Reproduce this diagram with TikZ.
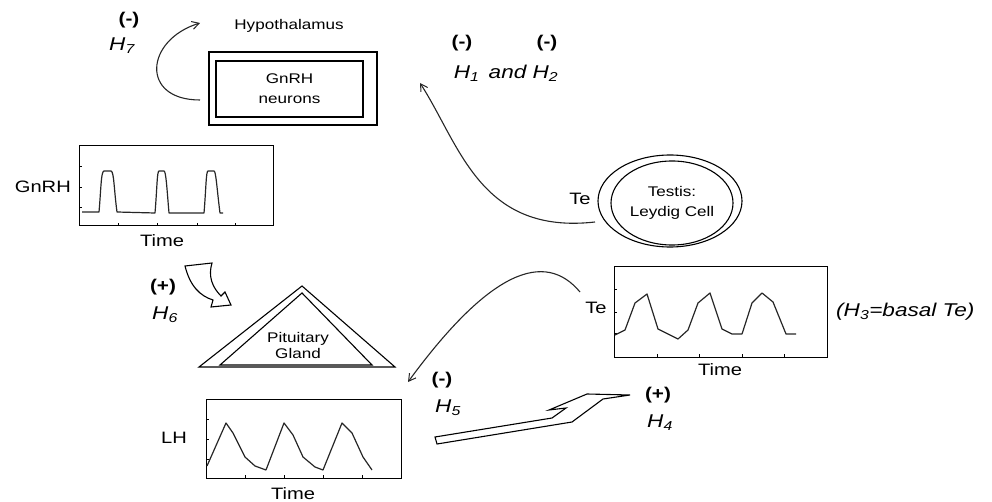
\documentclass[tikz,border=0pt]{standalone}
\usepackage{fontspec}
\setmainfont{Liberation Sans}[FakeStretch=1.22]
\usetikzlibrary{arrows.meta,shapes.geometric}
\begin{document}
\begin{tikzpicture}[x=1pt,y=-1pt,
  txt/.style={inner sep=0pt, font=\fontsize{14}{17}\selectfont, align=center},
  plbl/.style={inner sep=0pt, font=\fontsize{16.5}{18}\selectfont},
  hlbl/.style={inner sep=0pt, font=\fontsize{18.5}{20}\selectfont\itshape},
  sgn/.style={inner sep=0pt, font=\fontsize{17}{19}\selectfont\bfseries},
  box/.style={draw, line width=1.2pt, inner sep=0pt},
  plotbox/.style={draw, line width=1pt, inner sep=0pt},
  curve/.style={line width=1.2pt, line join=round, draw=black!85},
  tick/.style={line width=0.7pt},
  fb/.style={-{Straight Barb[length=7pt,width=8pt,line width=1pt]}, line width=1.1pt, draw=black!85},
  fat/.style={draw, line width=1.1pt, fill=white, line join=miter}]
\useasboundingbox (0,0) rectangle (992,502);

% Hypothalamus
\node[txt] (hyplbl) at (289,26) {Hypothalamus};
\node[box, minimum width=168pt, minimum height=73pt] (hypo) at (293,88.5) {};
\node[box, minimum width=147pt, minimum height=56pt, font=\fontsize{14}{20}\selectfont, align=center] (gnrhn) at (289.5,89) {GnRH\\neurons};

% H7
\node[sgn] (h7s) at (129,20) {(-)};
\node[hlbl] (h7) at (122,46) {H\textsubscript{7}};
\coordinate (h7a) at (200,100);
\coordinate (h7b) at (200,23);
\draw[fb] (h7a) .. controls (140,100) and (145,40) .. (h7b);

% H1 and H2
\node[sgn] (h1s) at (462,43) {(-)};
\node[sgn] (h2s) at (547,43) {(-)};
\node[hlbl] (h12) at (506,73) {H\textsubscript{1}\, and H\textsubscript{2}};

% GnRH plot
\node[plotbox, minimum width=194pt, minimum height=80pt] (gbox) at (176,186) {};
\node[plbl, anchor=east] (glbl) at (71,187) {GnRH};
\node[plbl] (gtime) at (162,241) {Time};
\foreach \y in {166,187,207} \draw[tick] (79,\y) -- (82,\y);
\foreach \x in {118,157,197,235} \draw[tick] (\x,226) -- (\x,223);
\draw[curve] (82,212) -- (99,212) .. controls (101,190) and (101,171) .. (104,171) -- (111,171)
  .. controls (114,171) and (114,190) .. (117,212) -- (155,213)
  .. controls (157,190) and (157,171) .. (159,171) -- (164,171)
  .. controls (166,171) and (167,190) .. (169,213) -- (204,213)
  .. controls (206,190) and (206,171) .. (208,171) -- (214,171)
  .. controls (216,171) and (217,190) .. (220,213) -- (223,213);

% H6 fat arrow
\node[sgn] (h6s) at (163,287) {(+)};
\node[hlbl] (h6) at (165,315) {H\textsubscript{6}};
\draw[fat] (185,266) .. controls (190,286) and (200,296) .. (213,300) -- (211,307) -- (231,305)
  -- (225,292) -- (221,296) .. controls (212,287) and (208,276) .. (212,263) -- cycle;

% Pituitary
\draw[line width=1.1pt, line join=miter] (199,367) -- (302,286) -- (395,367) -- cycle;
\draw[line width=1.1pt, line join=miter] (220,365) -- (302,293) -- (372,365) -- cycle;
\node[txt, font=\fontsize{14}{16}\selectfont] (pit) at (298,345) {Pituitary\\Gland};

% LH plot
\node[plotbox, minimum width=195pt, minimum height=79pt] (lbox) at (303.5,438.5) {};
\node[plbl] (llbl) at (174,438) {LH};
\node[plbl] (ltime) at (293,494) {Time};
\foreach \y in {419,439,459} \draw[tick] (206,\y) -- (209,\y);
\foreach \x in {245,284,323,362} \draw[tick] (\x,478) -- (\x,475);
\draw[curve] (207,466) -- (226,423) -- (233,433) -- (245,457) -- (255,466) -- (266,470)
  -- (284,423) -- (293,435) -- (303,457) -- (315,467) -- (323,470)
  -- (342,423) -- (352,433) -- (363,457) -- (372,470);

% Testis
\node[ellipse, draw, line width=1.1pt, minimum width=144pt, minimum height=92pt, inner sep=0pt] (testo) at (670,201) {};
\node[ellipse, draw, line width=1.1pt, minimum width=122pt, minimum height=84pt, inner sep=0pt, font=\fontsize{14}{20}\selectfont, align=center] (testi) at (672,203) {Testis:\\Leydig Cell};
\node[plbl] (te1) at (580,199) {Te};
\coordinate (t1a) at (595,222);
\coordinate (t1b) at (420,83);
\draw[fb] (t1a) .. controls (480,235) and (460,145) .. (t1b);

% Te plot
\node[plotbox, minimum width=213pt, minimum height=90pt] (tbox) at (720.5,312) {};
\node[plbl] (tlbl) at (596,308) {Te};
\node[plbl] (ttime) at (720,370) {Time};
\node[hlbl, anchor=west] (h3) at (836,312) {(H\textsubscript{3}=basal Te)};
\foreach \y in {289,312,333} \draw[tick] (614,\y) -- (617,\y);
\foreach \x in {657,699,742,784} \draw[tick] (\x,357) -- (\x,354);
\draw[curve] (615,335) -- (625,330) -- (635,303) -- (647,294) -- (658,329) -- (678,339)
  -- (688,330) -- (698,303) -- (710,293) -- (722,329) -- (732,334) -- (742,334)
  -- (752,303) -- (762,293) -- (773,302) -- (786,334) -- (796,334);

% H5
\coordinate (t2a) at (580,292);
\coordinate (t2b) at (408,382);
\draw[fb] (t2a) .. controls (545,250) and (490,270) .. (t2b);
\node[sgn] (h5s) at (442,380) {(-)};
\node[hlbl] (h5) at (448,408) {H\textsubscript{5}};

% H4 fat arrow
\draw[fat] (435,437) -- (552,418) -- (566,408) -- (549,410) -- (587,394) -- (630,395)
  -- (603,399) -- (572,422) -- (437,444) -- cycle;
\node[sgn] (h4s) at (658,395) {(+)};
\node[hlbl] (h4) at (660,423) {H\textsubscript{4}};
\end{tikzpicture}
\end{document}
